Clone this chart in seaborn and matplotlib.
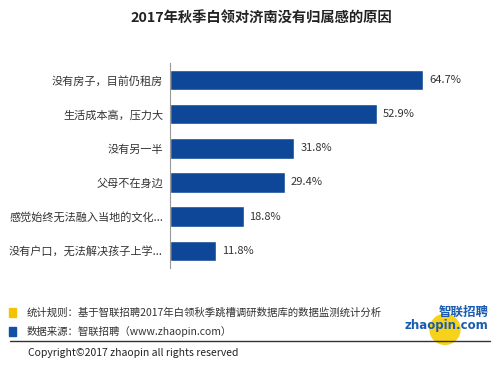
import matplotlib
matplotlib.use("Agg")
import matplotlib.pyplot as plt
import seaborn as sns
import pandas as pd
from matplotlib.patches import Rectangle, Ellipse

# --- DATOS ---
reasons = ["没有房子，目前仍租房", "生活成本高，压力大", "没有另一半", "父母不在身边",
           "感觉始终无法融入当地的文化...", "没有户口，无法解决孩子上学..."]
shares = [64.7, 52.9, 31.8, 29.4, 18.8, 11.8]
title = "2017年秋季白领对济南没有归属感的原因"
note_rule = "统计规则：基于智联招聘2017年白领秋季跳槽调研数据库的数据监测统计分析"
note_src = "数据来源：智联招聘（www.zhaopin.com）"
copyright_txt = "Copyright©2017 zhaopin all rights reserved"

sns.set_style("white")
plt.rcParams['font.family'] = ['Noto Sans CJK SC', 'DejaVu Sans']

df = pd.DataFrame({'reason': reasons, 'share': shares})
blue = '#0e4797'

fig = plt.figure(figsize=(5, 3.68), dpi=100)
ax = fig.add_axes([0.34, 0.272, 0.626, 0.557])
sns.barplot(data=df, x='share', y='reason', color=blue, width=0.6,
            saturation=1, ax=ax)
ax.set_xlim(0, 80)
ax.set_ylim(5.5, -0.5)
ax.set_xlabel('')
ax.set_ylabel('')
ax.set_xticks([])
for s in ['top', 'right', 'bottom']:
    ax.spines[s].set_visible(False)
ax.spines['left'].set_color('#999999')
ax.spines['left'].set_linewidth(0.8)
ax.tick_params(axis='y', which='major', length=0, pad=5, labelsize=8, labelcolor='#333333')
ax.set_yticks([i - 0.5 for i in range(7)], minor=True)
ax.tick_params(axis='y', which='minor', length=3, color='#999999', width=0.8)

for i, v in enumerate(shares):
    ax.text(v + 1.5, i, f"{v}%", va='center', ha='left', fontsize=8, color='#333333')

fig.text(0.522, 0.95, title, ha='center', va='center', fontsize=10.3, fontweight='bold', color='#222222')

# --- PIE DE PÁGINA ---
# logo (detrás)
fig.patches.append(Ellipse((0.89, 0.105), 30 / 500, 30 / 368, transform=fig.transFigure,
                           color='#f7d21c', figure=fig, zorder=0))
fig.text(0.978, 0.152, "智联招聘", ha='right', va='center', fontsize=9, fontweight='bold', color='#1a5cb0')
fig.text(0.976, 0.116, "zhaopin.com", ha='right', va='center', fontsize=8.5, fontweight='bold',
         color='#1a5cb0', family='DejaVu Sans')

fig.patches.append(Rectangle((0.018, 0.139), 0.013, 0.025, transform=fig.transFigure,
                             color='#f5c400', figure=fig))
fig.patches.append(Rectangle((0.018, 0.087), 0.013, 0.025, transform=fig.transFigure,
                             color='#1050a8', figure=fig))
fig.text(0.053, 0.150, note_rule, ha='left', va='center', fontsize=7.5, color='#333333')
fig.text(0.053, 0.098, note_src, ha='left', va='center', fontsize=7.5, color='#333333')
fig.add_artist(plt.Line2D([0.02, 0.98], [0.073, 0.073], transform=fig.transFigure,
                          color='#333333', linewidth=1))
fig.text(0.057, 0.04, copyright_txt, ha='left', va='center', fontsize=7.5, color='#222222')

plt.savefig('out.png', dpi=100)
